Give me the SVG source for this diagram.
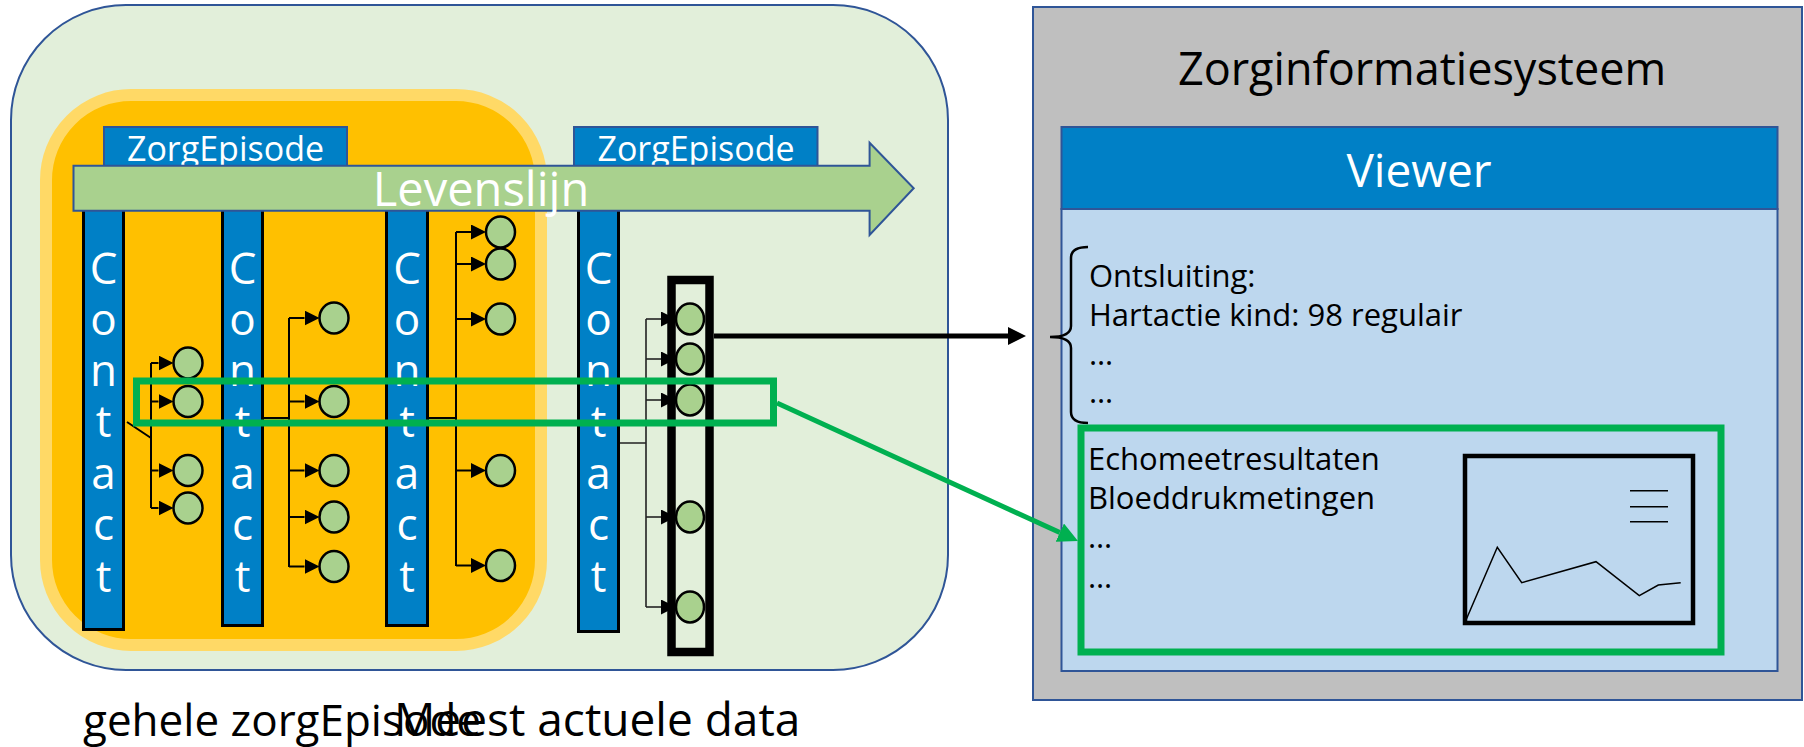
<svg xmlns="http://www.w3.org/2000/svg" width="1804" height="747" viewBox="0 0 1804 747">
<defs>
<style>
.ct{font-family:'Open Sans','DejaVu Sans',sans-serif;font-size:44px;fill:#fff;text-anchor:middle}
.col{fill:#0080C6;stroke:#000;stroke-width:3}
.ep{fill:#0080C6;stroke:#2F5597;stroke-width:2}
.ept{font-family:'Open Sans','DejaVu Sans',sans-serif;font-size:34px;fill:#fff;text-anchor:middle}
.dot{fill:#A9D18E;stroke:#000;stroke-width:2.5}
.br{fill:none;stroke:#000;stroke-width:2}
.br4{fill:none;stroke:#222;stroke-width:1.6}
.txt{font-family:'Open Sans','DejaVu Sans',sans-serif;font-size:31px;fill:#000}
.sel{fill:none;stroke:#00B050;stroke-width:7}
</style>
<marker id="ah" markerUnits="userSpaceOnUse" viewBox="0 0 15 15" markerWidth="15" markerHeight="15" refX="0" refY="7.5" orient="auto"><path d="M0,0L15,7.5L0,15z" fill="#000"/></marker>
<marker id="ahb" markerUnits="userSpaceOnUse" viewBox="0 0 18 18" markerWidth="18" markerHeight="18" refX="0" refY="9" orient="auto"><path d="M0,0L18,9L0,18z" fill="#000"/></marker>
<marker id="ahg" markerUnits="userSpaceOnUse" viewBox="0 0 20 20" markerWidth="20" markerHeight="20" refX="0" refY="10" orient="auto"><path d="M0,0L20,10L0,20z" fill="#00B050"/></marker>
</defs>

<g id="levenslijn-container">
<rect x="11" y="5" width="937" height="665" rx="115" fill="#E2EFDA" stroke="#2F5597" stroke-width="2"/>
</g>

<g id="zorgepisode-area">
<rect x="46" y="95" width="495" height="550" rx="85" fill="#FFC000" stroke="#FFD966" stroke-width="12"/>
</g>

<g id="zorgepisode-1">
<rect class="ep" x="104" y="127" width="243" height="45"/>
<text class="ept" x="225.5" y="161">ZorgEpisode</text>
</g>
<g id="zorgepisode-2">
<rect class="ep" x="574" y="127" width="243.5" height="45"/>
<text class="ept" x="696" y="161">ZorgEpisode</text>
</g>

<g id="contact-1">
<rect class="col" x="83.5" y="206" width="40" height="423.5"/>
<text class="ct"><tspan x="103.5" y="284">C</tspan><tspan x="103.5" y="335">o</tspan><tspan x="103.5" y="386">n</tspan><tspan x="103.5" y="437">t</tspan><tspan x="103.5" y="489">a</tspan><tspan x="103.5" y="540">c</tspan><tspan x="103.5" y="592">t</tspan></text>
</g>
<g id="contact-2">
<rect class="col" x="222.5" y="206" width="40" height="419.5"/>
<text class="ct"><tspan x="242.5" y="284">C</tspan><tspan x="242.5" y="335">o</tspan><tspan x="242.5" y="386">n</tspan><tspan x="242.5" y="437">t</tspan><tspan x="242.5" y="489">a</tspan><tspan x="242.5" y="540">c</tspan><tspan x="242.5" y="592">t</tspan></text>
</g>
<g id="contact-3">
<rect class="col" x="386.5" y="206" width="41" height="419.5"/>
<text class="ct"><tspan x="407" y="284">C</tspan><tspan x="407" y="335">o</tspan><tspan x="407" y="386">n</tspan><tspan x="407" y="437">t</tspan><tspan x="407" y="489">a</tspan><tspan x="407" y="540">c</tspan><tspan x="407" y="592">t</tspan></text>
</g>
<g id="contact-4">
<rect class="col" x="578.5" y="206" width="40" height="425.5" stroke-width="2.5"/>
<text class="ct"><tspan x="598.5" y="284">C</tspan><tspan x="598.5" y="335">o</tspan><tspan x="598.5" y="386">n</tspan><tspan x="598.5" y="437">t</tspan><tspan x="598.5" y="489">a</tspan><tspan x="598.5" y="540">c</tspan><tspan x="598.5" y="592">t</tspan></text>
</g>

<g id="levenslijn">
<polygon points="73.5,165.7 869.6,165.7 869.6,142.7 913.7,188.3 869.6,235 869.6,210.7 73.5,210.7" fill="#A9D18E" stroke="#2F5597" stroke-width="2"/>
<text x="481" y="206" font-family="'Open Sans','DejaVu Sans',sans-serif" font-size="47" fill="#fff" text-anchor="middle">Levenslijn</text>
</g>

<g id="meest-actuele-box">
<rect x="671.5" y="280" width="38" height="372" fill="none" stroke="#000" stroke-width="8.5"/>
</g>

<g id="labels-onder">
<text x="83" y="736" font-family="'Open Sans','DejaVu Sans',sans-serif" font-size="44" fill="#000">gehele zorgEpisode</text>
<text x="394" y="736" font-family="'Open Sans','DejaVu Sans',sans-serif" font-size="46" fill="#000">Meest actuele data</text>
</g>

<g id="zorginformatiesysteem">
<rect x="1033" y="7" width="769" height="693" fill="#BFBFBF" stroke="#2F5597" stroke-width="2"/>
<text x="1422" y="85" font-family="'Open Sans','DejaVu Sans',sans-serif" font-size="45" fill="#000" text-anchor="middle">Zorginformatiesysteem</text>
</g>

<g id="viewer">
<rect x="1061.5" y="209" width="716" height="462" fill="#BDD7EE" stroke="#2F5597" stroke-width="2"/>
<rect x="1061.5" y="127" width="716" height="82" fill="#0080C6" stroke="#2F5597" stroke-width="2"/>
<text x="1419" y="187" font-family="'Open Sans','DejaVu Sans',sans-serif" font-size="46" fill="#fff" text-anchor="middle">Viewer</text>
</g>

<g id="ontsluiting">
<path d="M1088,247Q1071,247 1071,258L1071,326Q1071,337 1050,337Q1071,337 1071,348L1071,412Q1071,423 1088,423" fill="none" stroke="#000" stroke-width="2.5"/>
<text class="txt" x="1089" y="287">Ontsluiting:</text>
<text class="txt" x="1089" y="326">Hartactie kind: 98 regulair</text>
<text class="txt" x="1089" y="365">…</text>
<text class="txt" x="1089" y="403">…</text>
</g>

<g id="metingen">
<rect class="sel" x="1081" y="428" width="640" height="224"/>
<text class="txt" x="1088" y="470">Echomeetresultaten</text>
<text class="txt" x="1088" y="509">Bloeddrukmetingen</text>
<text class="txt" x="1088" y="548">…</text>
<text class="txt" x="1088" y="588">…</text>
</g>

<g id="grafiek">
<rect x="1465" y="456" width="228" height="167" fill="none" stroke="#000" stroke-width="4.5"/>
<path d="M1630,490.7H1668M1630,506.7H1668M1630,521.7H1668" stroke="#000" stroke-width="1.5"/>
<polyline points="1466,620 1497.3,547.3 1521.7,582.7 1596,561.7 1639.3,595.7 1658.3,585 1680.7,582.7" fill="none" stroke="#000" stroke-width="1.5"/>
</g>

<g id="connectors">
<path class="br" d="M127,422L151,438M151,363V508"/>
<line class="br" x1="151" y1="363" x2="158.5" y2="363" marker-end="url(#ah)"/>
<line class="br" x1="151" y1="401.5" x2="158.5" y2="401.5" marker-end="url(#ah)"/>
<line class="br" x1="151" y1="470.5" x2="158.5" y2="470.5" marker-end="url(#ah)"/>
<line class="br" x1="151" y1="508" x2="158.5" y2="508" marker-end="url(#ah)"/>
<path class="br" d="M264,418H289M289,318V567"/>
<line class="br" x1="289" y1="318" x2="304.5" y2="318" marker-end="url(#ah)"/>
<line class="br" x1="289" y1="401.5" x2="304.5" y2="401.5" marker-end="url(#ah)"/>
<line class="br" x1="289" y1="470.5" x2="304.5" y2="470.5" marker-end="url(#ah)"/>
<line class="br" x1="289" y1="517" x2="304.5" y2="517" marker-end="url(#ah)"/>
<line class="br" x1="289" y1="566.5" x2="304.5" y2="566.5" marker-end="url(#ah)"/>
<path class="br" d="M429,418H456M456,232V566"/>
<line class="br" x1="456" y1="232" x2="471" y2="232" marker-end="url(#ah)"/>
<line class="br" x1="456" y1="264" x2="471" y2="264" marker-end="url(#ah)"/>
<line class="br" x1="456" y1="319" x2="471" y2="319" marker-end="url(#ah)"/>
<line class="br" x1="456" y1="470.5" x2="471" y2="470.5" marker-end="url(#ah)"/>
<line class="br" x1="456" y1="565.5" x2="471" y2="565.5" marker-end="url(#ah)"/>
<path class="br4" d="M620,443H646M646,319V607"/>
<line class="br4" x1="646" y1="319" x2="661" y2="319" marker-end="url(#ah)"/>
<line class="br4" x1="646" y1="359" x2="661" y2="359" marker-end="url(#ah)"/>
<line class="br4" x1="646" y1="400" x2="661" y2="400" marker-end="url(#ah)"/>
<line class="br4" x1="646" y1="517" x2="661" y2="517" marker-end="url(#ah)"/>
<line class="br4" x1="646" y1="607" x2="661" y2="607" marker-end="url(#ah)"/>
<line x1="714" y1="336" x2="1008" y2="336" stroke="#000" stroke-width="5" marker-end="url(#ahb)"/>
<line x1="777" y1="403" x2="1059.8" y2="532.6" stroke="#00B050" stroke-width="5" marker-end="url(#ahg)"/>
</g>

<g id="data-items">
<ellipse class="dot" cx="188" cy="363" rx="14.5" ry="15.5"/>
<ellipse class="dot" cx="188" cy="401.5" rx="14.5" ry="15.5"/>
<ellipse class="dot" cx="188" cy="470.5" rx="14.5" ry="15.5"/>
<ellipse class="dot" cx="188" cy="508" rx="14.5" ry="15.5"/>
<ellipse class="dot" cx="334" cy="318" rx="14.5" ry="15.5"/>
<ellipse class="dot" cx="334" cy="401.5" rx="14.5" ry="15.5"/>
<ellipse class="dot" cx="334" cy="470.5" rx="14.5" ry="15.5"/>
<ellipse class="dot" cx="334" cy="517" rx="14.5" ry="15.5"/>
<ellipse class="dot" cx="334" cy="566.5" rx="14.5" ry="15.5"/>
<ellipse class="dot" cx="500.5" cy="232" rx="14.5" ry="15.5"/>
<ellipse class="dot" cx="500.5" cy="264" rx="14.5" ry="15.5"/>
<ellipse class="dot" cx="500.5" cy="319" rx="14.5" ry="15.5"/>
<ellipse class="dot" cx="500.5" cy="470.5" rx="14.5" ry="15.5"/>
<ellipse class="dot" cx="500.5" cy="565.5" rx="14.5" ry="15.5"/>
<ellipse class="dot" cx="690" cy="319" rx="14" ry="15.5"/>
<ellipse class="dot" cx="690" cy="359" rx="14" ry="15.5"/>
<ellipse class="dot" cx="690" cy="400" rx="14" ry="15.5"/>
<ellipse class="dot" cx="690" cy="517" rx="14" ry="15.5"/>
<ellipse class="dot" cx="690" cy="607" rx="14" ry="15.5"/>
</g>

<g id="selectie-links">
<rect class="sel" x="136.5" y="381" width="637" height="42"/>
</g>
</svg>
